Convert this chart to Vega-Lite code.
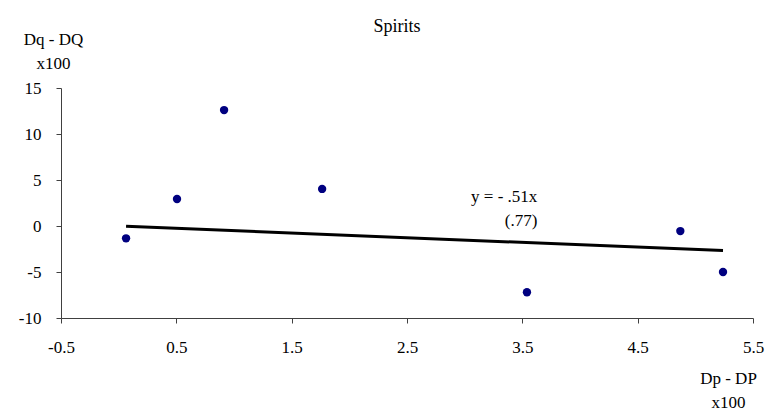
{
  "$schema": "https://vega.github.io/schema/vega-lite/v6.json",
  "width": 692,
  "height": 230,
  "autosize": {"type": "none"},
  "padding": {"left": 61, "top": 88, "right": 16, "bottom": 96},
  "background": "white",
  "config": {
    "view": {"stroke": null},
    "font": "Liberation Serif",
    "axis": {
      "grid": false,
      "domainColor": "#404040",
      "tickColor": "#404040",
      "labelFont": "Liberation Serif",
      "titleFont": "Liberation Serif",
      "labelFontSize": 17,
      "titleFontSize": 17,
      "labelColor": "black",
      "titleColor": "black",
      "titleFontWeight": "normal",
      "tickSize": 5
    }
  },
  "title": {
    "text": "Spirits",
    "font": "Liberation Serif",
    "fontSize": 18,
    "fontWeight": "normal",
    "color": "black",
    "anchor": "middle",
    "frame": "group",
    "baseline": "alphabetic",
    "offset": -20,
    "dx": -10
  },
  "layer": [
    {
      "data": {
        "values": [
          {"dp": 0.064, "dq": -1.34},
          {"dp": 0.506, "dq": 2.94},
          {"dp": 0.914, "dq": 12.6},
          {"dp": 1.764, "dq": 4.03},
          {"dp": 3.54, "dq": -7.2},
          {"dp": 4.87, "dq": -0.55},
          {"dp": 5.24, "dq": -5.0}
        ]
      },
      "mark": {"type": "circle", "size": 70, "color": "#000080", "opacity": 1},
      "encoding": {
        "x": {
          "field": "dp",
          "type": "quantitative",
          "scale": {"domain": [-0.5, 5.5], "nice": false, "zero": false},
          "axis": {
            "values": [-0.5, 0.5, 1.5, 2.5, 3.5, 4.5, 5.5],
            "format": ".1f",
            "labelExpr": "replace(datum.label, '\u2212', '-')",
            "labelPadding": 16,
            "labelFlush": false,
            "title": ["Dp - DP", "x100"],
            "titleAnchor": null,
            "titleAlign": "center",
            "titleBaseline": "alphabetic",
            "titleX": 667,
            "titleY": 65,
            "titleLineHeight": 24
          }
        },
        "y": {
          "field": "dq",
          "type": "quantitative",
          "scale": {"domain": [-10, 15], "nice": false, "zero": false},
          "axis": {
            "values": [-10, -5, 0, 5, 10, 15],
            "labelExpr": "replace(datum.label, '\u2212', '-')",
            "labelPadding": 15,
            "labelFlush": false,
            "title": ["Dq - DQ", "x100"],
            "titleAngle": 0,
            "titleAnchor": null,
            "titleAlign": "center",
            "titleBaseline": "alphabetic",
            "titleX": -8,
            "titleY": -44,
            "titleLineHeight": 24
          }
        }
      }
    },
    {
      "data": {
        "values": [
          {"dp": 0.064, "fit": -0.033},
          {"dp": 5.24, "fit": -2.67}
        ]
      },
      "mark": {"type": "line", "color": "black", "strokeWidth": 3},
      "encoding": {
        "x": {"field": "dp", "type": "quantitative"},
        "y": {"field": "fit", "type": "quantitative"}
      }
    },
    {
      "data": {
        "values": [
          {"label": "y = - .51x", "lx": 3.63, "ly": 2.6},
          {"label": "(.77)", "lx": 3.63, "ly": 0.05}
        ]
      },
      "mark": {"type": "text", "align": "right", "baseline": "alphabetic", "fontSize": 17, "font": "Liberation Serif", "color": "black"},
      "encoding": {
        "x": {"field": "lx", "type": "quantitative"},
        "y": {"field": "ly", "type": "quantitative"},
        "text": {"field": "label"}
      }
    }
  ]
}
